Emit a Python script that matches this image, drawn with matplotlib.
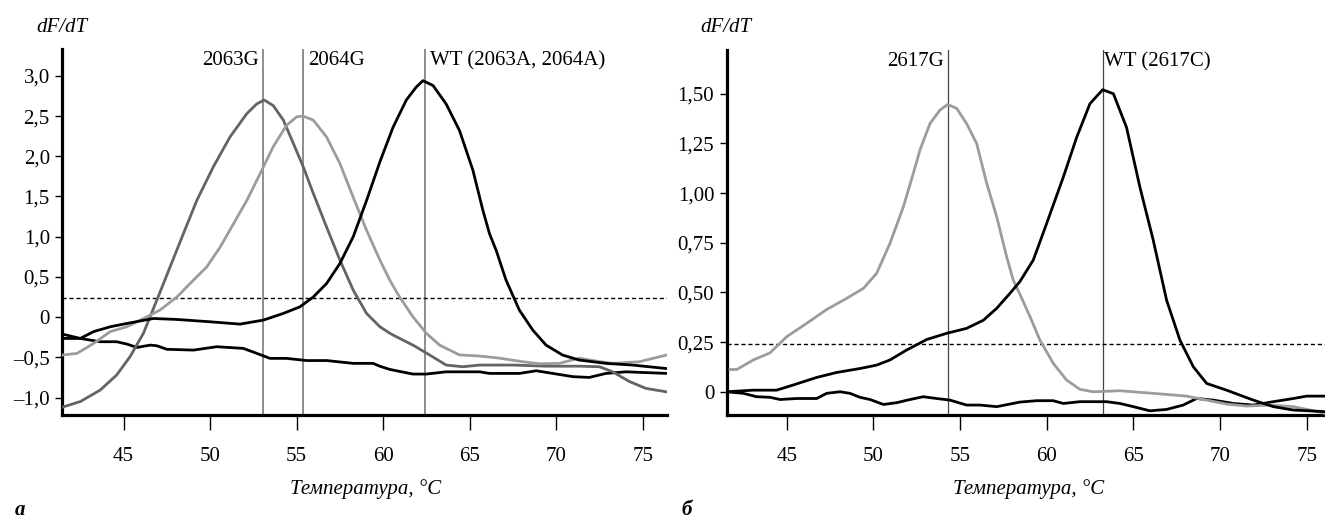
import matplotlib
matplotlib.use("Agg")
import matplotlib.pyplot as plt
from matplotlib.ticker import FuncFormatter

plt.rcParams['font.family'] = ['Liberation Serif', 'DejaVu Serif']

# ---------------- Panel a data ----------------
a_g2063_T = [41.46, 42.5, 43.65, 44.6, 45.38, 46.15, 46.92, 47.69, 48.46, 49.23, 50.19, 51.15, 52.12, 52.69,
             53.12, 53.65, 54.23, 54.81, 55.38, 55.96, 56.73, 57.5, 58.27, 59.04, 59.81, 60.38, 60.76,
             61.72, 62.68, 63.64, 64.6, 65.57, 67.5, 69.41, 71.33, 72.5, 73.26, 74.22, 75.18, 76.4]
a_g2063_v = [-1.12, -1.05, -0.907, -0.72, -0.49, -0.20, 0.21, 0.625, 1.04, 1.45, 1.87, 2.24, 2.53, 2.65,
             2.70, 2.63, 2.45, 2.16, 1.87, 1.54, 1.12, 0.71, 0.335, 0.046, -0.12, -0.20, -0.244,
             -0.348, -0.47, -0.596, -0.617, -0.596, -0.596, -0.61, -0.61, -0.617, -0.68, -0.80, -0.886, -0.93]

a_g2064_T = [41.46, 42.31, 43.27, 44.23, 45.19, 46.35, 47.1, 48.08, 49.04, 49.81, 50.58, 51.35, 52.12, 52.88,
             53.65, 54.42, 55.0, 55.35, 55.96, 56.73, 57.5, 58.27, 59.04, 59.81, 60.38, 60.95, 61.72,
             62.49, 63.26, 64.41, 65.57, 66.72, 68.07, 69.03, 70.18, 71.33, 72.3, 73.26, 74.79, 76.4]
a_g2064_v = [-0.472, -0.451, -0.327, -0.18, -0.12, 0.004, 0.087, 0.25, 0.46, 0.625, 0.87, 1.16, 1.45, 1.78,
             2.12, 2.385, 2.49, 2.50, 2.45, 2.24, 1.91, 1.49, 1.08, 0.71, 0.46, 0.25, 0.004,
             -0.20, -0.348, -0.47, -0.484, -0.51, -0.555, -0.58, -0.575, -0.51, -0.547, -0.575, -0.555, -0.47]

a_wt_T = [41.46, 42.5, 43.27, 44.23, 45.19, 46.73, 48.08, 50.0, 51.73, 53.08, 54.23, 55.19, 55.96, 56.73,
          57.5, 58.27, 59.04, 59.81, 60.57, 61.34, 61.91, 62.3, 62.88, 63.64, 64.41, 65.18, 65.76,
          66.14, 66.53, 67.1, 67.87, 68.64, 69.41, 70.37, 71.33, 72.87, 74.41, 76.4]
a_wt_v = [-0.265, -0.265, -0.18, -0.12, -0.079, -0.017, -0.029, -0.058, -0.087, -0.037, 0.046, 0.128, 0.25,
          0.418, 0.667, 1.0, 1.45, 1.93, 2.36, 2.70, 2.86, 2.94, 2.88, 2.65, 2.32, 1.83, 1.33,
          1.04, 0.83, 0.46, 0.087, -0.16, -0.348, -0.472, -0.534, -0.575, -0.596, -0.64]

a_base_T = [41.46, 42.5, 43.65, 44.6, 45.19, 45.77, 46.54, 46.92, 47.5, 49.04, 50.38, 51.92, 52.69, 53.46,
            54.42, 55.58, 56.73, 58.27, 59.42, 59.8, 60.38, 60.76, 61.72, 62.49, 63.64, 65.57, 66.14,
            67.87, 68.84, 69.8, 70.95, 71.91, 72.87, 74.03, 76.4]
a_base_v = [-0.211, -0.265, -0.306, -0.306, -0.335, -0.377, -0.348, -0.356, -0.40, -0.41, -0.368, -0.389,
            -0.45, -0.513, -0.513, -0.54, -0.54, -0.575, -0.575, -0.61, -0.65, -0.667, -0.708, -0.708,
            -0.68, -0.68, -0.70, -0.70, -0.667, -0.70, -0.74, -0.75, -0.70, -0.68, -0.70]

a_marker_T = [53.07, 55.34, 62.44]
a_marker_labels = ["2063G", "2064G", "WT (2063A, 2064A)"]
a_threshold = 0.24
a_yticks = [-1.0, -0.5, 0.0, 0.5, 1.0, 1.5, 2.0, 2.5, 3.0]

# ---------------- Panel б data ----------------
b_g2617_T = [41.73, 42.12, 43.08, 44.04, 45.0, 46.15, 47.31, 48.46, 49.42, 50.19, 50.96, 51.73, 52.31,
             52.69, 53.27, 53.85, 54.29, 54.81, 55.38, 55.96, 56.54, 57.12, 57.69, 58.08, 58.46, 59.04,
             59.61, 60.38, 61.15, 61.92, 62.69, 64.23, 66.15, 68.07, 69.23, 70.38, 71.54, 72.88, 74.23,
             75.19, 76.06]
b_g2617_v = [0.112, 0.112, 0.16, 0.196, 0.277, 0.344, 0.414, 0.47, 0.52, 0.596, 0.747, 0.93, 1.10,
             1.216, 1.35, 1.418, 1.446, 1.426, 1.35, 1.25, 1.05, 0.88, 0.68, 0.56, 0.49, 0.378,
             0.26, 0.143, 0.059, 0.012, 0.0, 0.005, -0.008, -0.022, -0.042, -0.062, -0.072, -0.067, -0.075,
             -0.092, -0.109]

b_wt_T = [41.54, 43.08, 44.42, 45.38, 46.73, 47.88, 49.23, 50.19, 50.96, 51.92, 53.08, 54.23, 55.38,
          56.35, 57.12, 57.88, 58.46, 59.23, 60.0, 60.96, 61.73, 62.5, 63.23, 63.85, 64.61, 65.38,
          66.15, 66.92, 67.69, 68.46, 69.23, 70.38, 71.92, 73.08, 74.23, 76.06]
b_wt_v = [0.0, 0.008, 0.008, 0.034, 0.072, 0.097, 0.117, 0.134, 0.16, 0.21, 0.263, 0.294, 0.319,
          0.36, 0.42, 0.495, 0.555, 0.663, 0.847, 1.08, 1.28, 1.45, 1.52, 1.50, 1.33, 1.03,
          0.763, 0.461, 0.26, 0.126, 0.042, 0.008, -0.042, -0.075, -0.092, -0.10]

b_base_T = [41.54, 42.5, 43.27, 44.04, 44.62, 45.58, 46.73, 47.31, 48.08, 48.65, 49.23, 49.81, 50.58,
            51.35, 52.12, 52.88, 53.65, 54.42, 55.38, 56.15, 57.12, 58.46, 59.42, 60.38, 60.96, 61.92,
            63.46, 64.23, 65.0, 65.96, 66.92, 67.88, 68.65, 69.61, 70.77, 71.92, 73.08, 74.23, 75.0,
            76.06]
b_base_v = [0.0, -0.008, -0.025, -0.028, -0.039, -0.034, -0.034, -0.008, 0.0, -0.008, -0.028, -0.039,
            -0.064, -0.055, -0.039, -0.025, -0.034, -0.042, -0.067, -0.067, -0.075, -0.052, -0.045,
            -0.045, -0.059, -0.05, -0.05, -0.059, -0.075, -0.096, -0.089, -0.067, -0.034, -0.042,
            -0.059, -0.067, -0.05, -0.034, -0.022, -0.022]

b_marker_T = [54.29, 63.23]
b_marker_labels = ["2617G", "WT (2617C)"]
b_threshold = 0.24
b_yticks = [0.0, 0.25, 0.5, 0.75, 1.0, 1.25, 1.5]

x_ticks = [45, 50, 55, 60, 65, 70, 75]

DARK = "#646464"
LIGHT = "#9c9c9c"
BLACK = "#000000"
FS = 15


def fmt1(v, pos):
    if abs(v) < 1e-9:
        return "0"
    s = f"{abs(v):.1f}".replace(".", ",")
    return ("\u2013" + s) if v < 0 else s


def fmt2(v, pos):
    if abs(v) < 1e-9:
        return "0"
    s = f"{abs(v):.2f}".replace(".", ",")
    return ("\u2013" + s) if v < 0 else s


def style_axes(ax, xlim, ylim, yticks, yfmt):
    ax.set_xlim(*xlim)
    ax.set_ylim(*ylim)
    for side in ("top", "right"):
        ax.spines[side].set_visible(False)
    for side in ("left", "bottom"):
        ax.spines[side].set_linewidth(2.3)
        ax.spines[side].set_color("black")
        ax.spines[side].set_capstyle("projecting")
    ax.set_xticks(x_ticks)
    ax.set_yticks(yticks)
    ax.yaxis.set_major_formatter(FuncFormatter(yfmt))
    ax.tick_params(axis="x", direction="out", length=11, width=1.0, pad=12, labelsize=FS)
    ax.tick_params(axis="y", direction="out", length=5, width=1.0, pad=4, labelsize=FS)
    ax.patch.set_alpha(0)


fig = plt.figure(figsize=(13.25, 5.21), dpi=100)

# ---- Panel a ----
axa = fig.add_axes([62.3 / 1325, 1 - 415 / 521, (667 - 62.3) / 1325, (415 - 49.3) / 521])
style_axes(axa, (41.46, 76.4), (-1.217, 3.33), a_yticks, fmt1)
for t in a_marker_T:
    axa.axvline(t, color="#7a7a7a", lw=1.2, zorder=1)
axa.axhline(a_threshold, color="black", lw=1.0, ls=(0, (3, 2)), zorder=1)
axa.plot(a_base_T, a_base_v, color=BLACK, lw=2.0, zorder=3)
axa.plot(a_g2063_T, a_g2063_v, color=DARK, lw=2.0, zorder=3)
axa.plot(a_g2064_T, a_g2064_v, color=LIGHT, lw=2.0, zorder=3)
axa.plot(a_wt_T, a_wt_v, color=BLACK, lw=2.0, zorder=4)
axa.annotate(a_marker_labels[0], (a_marker_T[0], 3.33), xytext=(-3, -1.5), textcoords="offset points",
             ha="right", va="top", fontsize=FS)
axa.annotate(a_marker_labels[1], (a_marker_T[1], 3.33), xytext=(4, -1.5), textcoords="offset points",
             ha="left", va="top", fontsize=FS)
axa.annotate(a_marker_labels[2], (a_marker_T[2], 3.33), xytext=(3, -1.5), textcoords="offset points",
             ha="left", va="top", fontsize=FS)

# ---- Panel б ----
axb = fig.add_axes([726.7 / 1325, 1 - 415 / 521, (1325 - 726.7) / 1325, (415 - 50) / 521])
style_axes(axb, (41.54, 76.06), (-0.117, 1.72), b_yticks, fmt2)
for t in b_marker_T:
    axb.axvline(t, color="#444444", lw=0.9, zorder=1)
axb.axhline(b_threshold, color="black", lw=1.0, ls=(0, (3, 2)), zorder=1)
axb.plot(b_base_T, b_base_v, color=BLACK, lw=2.0, zorder=3)
axb.plot(b_g2617_T, b_g2617_v, color=LIGHT, lw=2.0, zorder=3)
axb.plot(b_wt_T, b_wt_v, color=BLACK, lw=2.0, zorder=4)
axb.annotate(b_marker_labels[0], (b_marker_T[0], 1.72), xytext=(-3, -1.5), textcoords="offset points",
             ha="right", va="top", fontsize=FS)
axb.annotate(b_marker_labels[1], (b_marker_T[1], 1.72), xytext=(1, -1.5), textcoords="offset points",
             ha="left", va="top", fontsize=FS)

# ---- Figure texts ----
fig.text(62 / 1325, 1 - 27 / 521, "dF/dT", ha="center", va="center", fontsize=FS, style="italic")
fig.text(726 / 1325, 1 - 27 / 521, "dF/dT", ha="center", va="center", fontsize=FS, style="italic")
fig.text(366 / 1325, 1 - 489 / 521, "Температура, °C", ha="center", va="center", fontsize=FS, style="italic")
fig.text(1029 / 1325, 1 - 489 / 521, "Температура, °C", ha="center", va="center", fontsize=FS, style="italic")
fig.text(20 / 1325, 1 - 510 / 521, "а", ha="center", va="center", fontsize=FS, style="italic", weight="bold")
fig.text(687 / 1325, 1 - 510 / 521, "б", ha="center", va="center", fontsize=FS, style="italic", weight="bold")

fig.savefig("out.png", dpi=100)
